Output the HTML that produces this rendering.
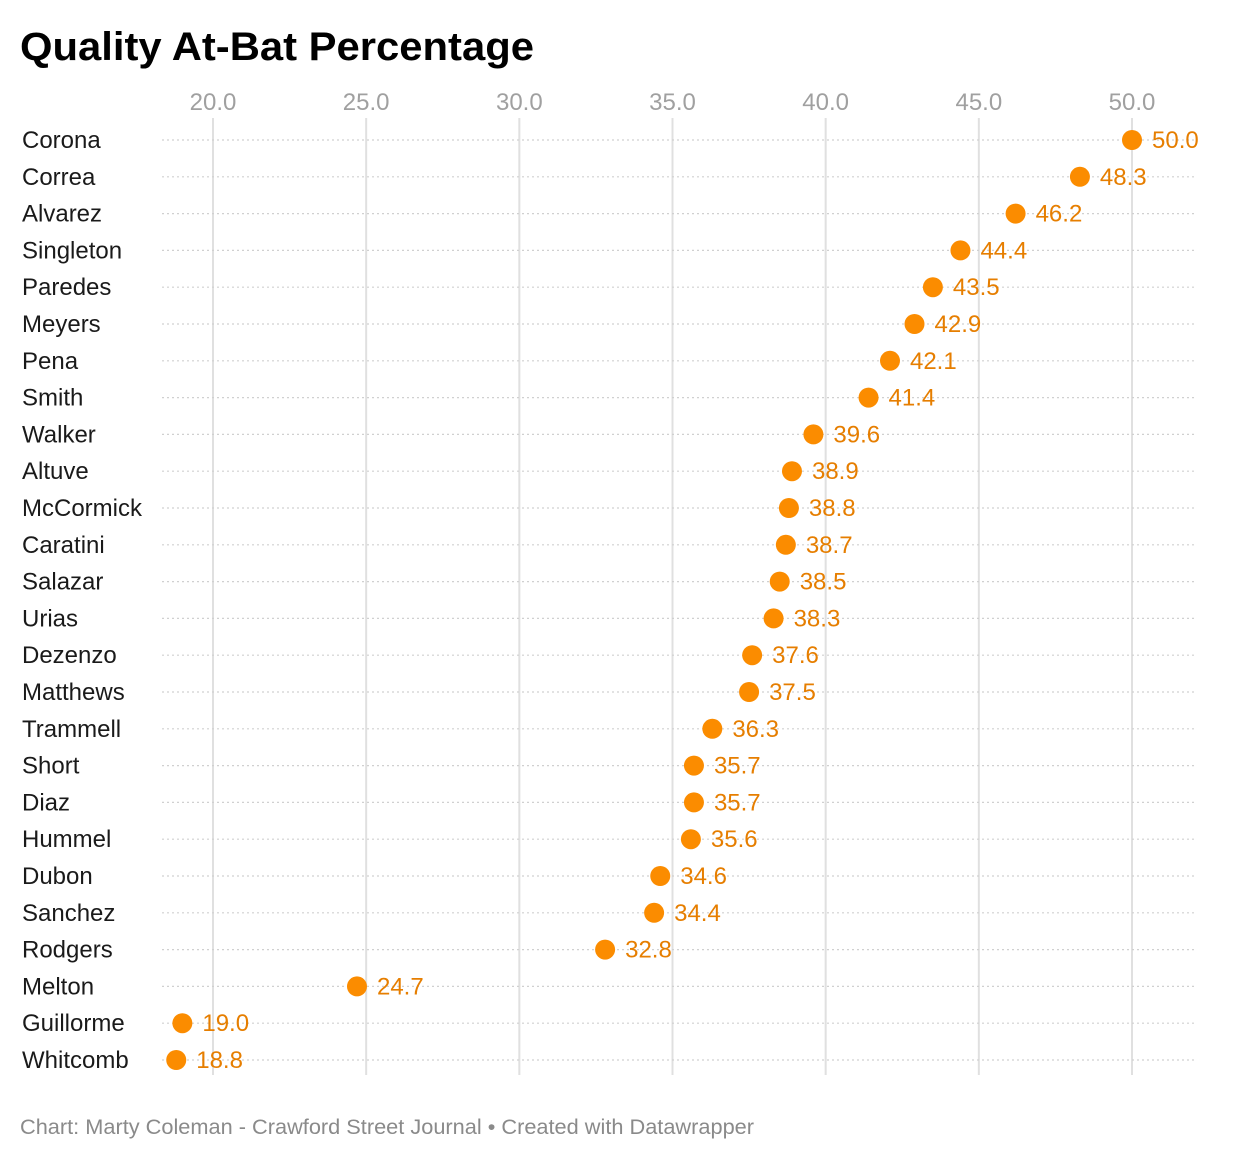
<!DOCTYPE html>
<html><head><meta charset="utf-8">
<style>
html,body{margin:0;padding:0;background:#fff;}
body{width:1240px;height:1162px;overflow:hidden;font-family:"Liberation Sans",sans-serif;}
</style></head>
<body>
<svg id="chart" width="1240" height="1162" xmlns="http://www.w3.org/2000/svg" font-family="Liberation Sans, sans-serif">
<text x="20" y="60" font-size="40" font-weight="bold" fill="#000" textLength="514" lengthAdjust="spacingAndGlyphs">Quality At-Bat Percentage</text>
<g id="grid"></g>
<g id="marks"></g>
<text x="20" y="1134" font-size="21" fill="#8a8a8a" textLength="734" lengthAdjust="spacingAndGlyphs">Chart: Marty Coleman - Crawford Street Journal • Created with Datawrapper</text>
</svg>
<script>
const names = ["Corona","Correa","Alvarez","Singleton","Paredes","Meyers","Pena","Smith","Walker","Altuve","McCormick","Caratini","Salazar","Urias","Dezenzo","Matthews","Trammell","Short","Diaz","Hummel","Dubon","Sanchez","Rodgers","Melton","Guillorme","Whitcomb"];
const values = [50.0,48.3,46.2,44.4,43.5,42.9,42.1,41.4,39.6,38.9,38.8,38.7,38.5,38.3,37.6,37.5,36.3,35.7,35.7,35.6,34.6,34.4,32.8,24.7,19.0,18.8];
const ticks = [20,25,30,35,40,45,50];

const NS = "http://www.w3.org/2000/svg";
const x = v => 213 + (v - 20) * (1132 - 213) / 30;
const y = i => 140 + i * 36.8;
const grid = document.getElementById('grid');
const marks = document.getElementById('marks');
function mk(tag, attrs, parent){ const e=document.createElementNS(NS,tag); for(const k in attrs) e.setAttribute(k,attrs[k]); parent.appendChild(e); return e; }

ticks.forEach(t=>{
  const l = mk('line',{x1:x(t),x2:x(t),y1:118,y2:1075,stroke:'#e0e0e0','stroke-width':2},grid);
  
  
  const tx = mk('text',{x:x(t),y:110,'font-size':24,fill:'#a0a0a0','text-anchor':'middle'},grid);
  tx.textContent = t.toFixed(1);
  
  
});
names.forEach((n,i)=>{
  const l = mk('line',{x1:162,x2:1196,y1:y(i),y2:y(i),stroke:'#d0d0d0','stroke-width':1.2,'stroke-dasharray':'2,3'},grid);
  
  
  const t = mk('text',{x:22,y:y(i)+8,'font-size':24,fill:'#1a1a1a'},marks);
  t.textContent = n;
  
  
  const c = mk('circle',{cx:x(values[i]),cy:y(i),r:10,fill:'#fb8c00'},marks);
  
  
  const v = mk('text',{x:x(values[i])+20,y:y(i)+8,'font-size':24,fill:'#e67e00'},marks);
  v.textContent = values[i].toFixed(1);
  
  
});
</script>
</body></html>
